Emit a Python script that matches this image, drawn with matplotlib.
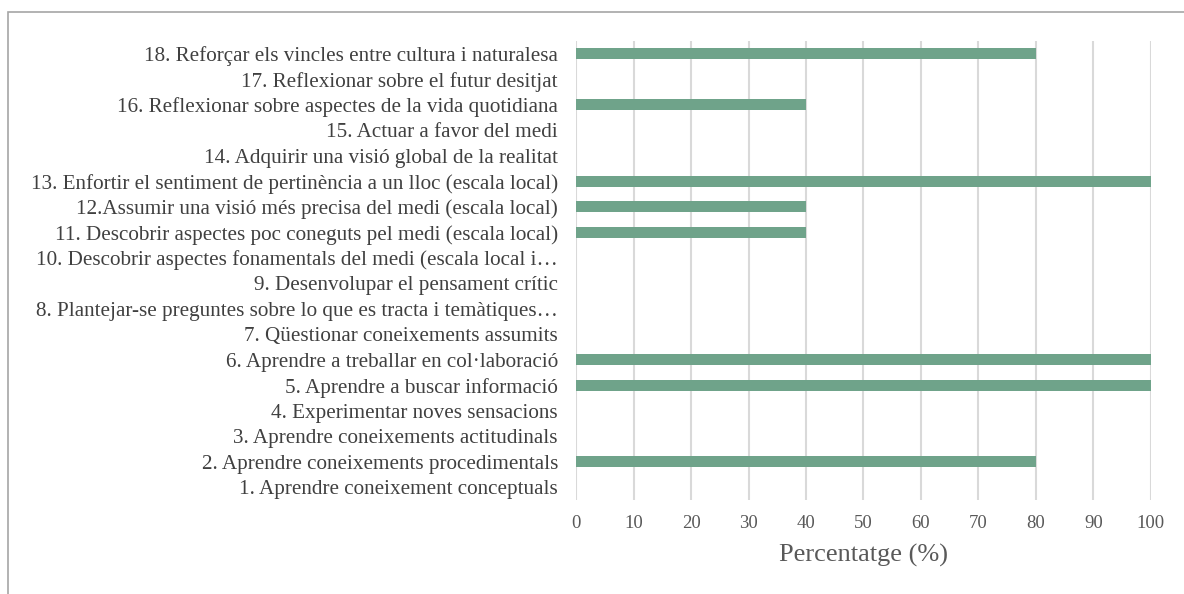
import matplotlib.pyplot as plt
from matplotlib.patches import Rectangle

plt.rcParams['font.family'] = ['Liberation Serif', 'DejaVu Serif']

labels = [
    "1. Aprendre coneixement conceptuals",
    "2. Aprendre coneixements procedimentals",
    "3. Aprendre coneixements actitudinals",
    "4. Experimentar noves sensacions",
    "5. Aprendre a buscar informació",
    "6. Aprendre a treballar en col·laboració",
    "7. Qüestionar coneixements assumits",
    "8. Plantejar-se preguntes sobre lo que es tracta i temàtiques…",
    "9. Desenvolupar el pensament crític",
    "10. Descobrir aspectes fonamentals del medi (escala local i…",
    "11. Descobrir aspectes poc coneguts pel medi (escala local)",
    "12.Assumir una visió més precisa del medi (escala local)",
    "13. Enfortir el sentiment de pertinència a un lloc (escala local)",
    "14. Adquirir una visió global de la realitat",
    "15. Actuar a favor del medi",
    "16. Reflexionar sobre aspectes de la vida quotidiana",
    "17. Reflexionar sobre el futur desitjat",
    "18. Reforçar els vincles entre cultura i naturalesa",
]
values = [0, 80, 0, 0, 100, 100, 0, 0, 0, 0, 40, 40, 100, 0, 0, 40, 0, 80]
xticks = [0, 10, 20, 30, 40, 50, 60, 70, 80, 90, 100]

fig = plt.figure(figsize=(11.84, 5.94), dpi=100)
ax = fig.add_axes([0.4865, 0.158, 0.4856, 0.773])

pos = range(len(labels))
ax.barh(pos, values, height=0.44, color='#6fa38a', zorder=3)

ax.set_xlim(0, 100)
ax.set_ylim(-0.5, len(labels) - 0.5)
ax.set_xticks(xticks)
ax.set_yticks(list(pos))
ax.set_yticklabels(labels, fontsize=15.2, color='#404040')
ax.tick_params(axis='x', labelsize=13.5, colors='#595959', length=0, pad=11)
ax.tick_params(axis='y', length=0, pad=13)
ax.grid(axis='x', color='#d9d9d9', linewidth=1.5, zorder=0)
for s in ax.spines.values():
    s.set_visible(False)
ax.set_xlabel('Percentatge (%)', fontsize=19, color='#595959', labelpad=8)

fig.patches.append(Rectangle((8 / 1184, -0.1), 1.2, 1 - 12 / 594 + 0.1,
                             transform=fig.transFigure, fill=False,
                             edgecolor='#a6a6a6', linewidth=1.2))

fig.savefig('out.png', dpi=100)
